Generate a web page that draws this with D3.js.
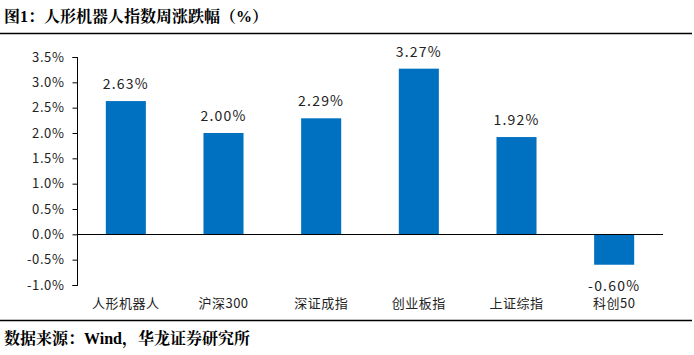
<!DOCTYPE html>
<html><head><meta charset="utf-8">
<script src="https://cdn.jsdelivr.net/npm/d3@7"></script>
<style>body{margin:0;background:#fff}</style>
</head><body>
<svg id="c" width="694" height="355"></svg>
<script>
const categories = ["人形机器人","沪深300","深证成指","创业板指","上证综指","科创50"];
const values = [2.63, 2.00, 2.29, 3.27, 1.92, -0.60];
const valueLabels = ["2.63%","2.00%","2.29%","3.27%","1.92%","-0.60%"];
const yTicks = [3.5,3.0,2.5,2.0,1.5,1.0,0.5,0.0,-0.5,-1.0];

const svg = d3.select("#c");
const sans = "'Noto Sans CJK SC', 'Liberation Sans', sans-serif";
const serif = "'Liberation Serif', 'Noto Serif CJK SC', 'Noto Sans CJK SC', serif";

// title
svg.append("text").attr("x",4).attr("y",22).attr("font-family",serif)
  .attr("font-weight","bold").attr("font-size",16).attr("fill","#000")
  .text("图1：人形机器人指数周涨跌幅（%）");
svg.append("line").attr("x1",0).attr("x2",692).attr("y1",33.5).attr("y2",33.5)
  .attr("stroke","#000").attr("stroke-width",1.5);
svg.append("line").attr("x1",0).attr("x2",692).attr("y1",320.5).attr("y2",320.5)
  .attr("stroke","#000").attr("stroke-width",1.5);
svg.append("text").attr("x",4).attr("y",344).attr("font-family",serif)
  .attr("font-weight","bold").attr("font-size",16).attr("fill","#000")
  .text("数据来源：Wind，华龙证券研究所");

const x = d3.scaleBand().domain(categories).range([77,663]).paddingInner(0.59).paddingOuter(0.295);
const y = d3.scaleLinear().domain([-1,3.5]).range([285,57]);

const yAxis = d3.axisLeft(y).tickValues(yTicks).tickSize(5).tickFormat(d=>d.toFixed(1)+"%");
const gy = svg.append("g").attr("transform","translate(77.5,0)").call(yAxis);
gy.select(".domain").attr("stroke","#000").attr("d","M-5,57.5H0V285.5H-5");
gy.selectAll(".tick line").attr("stroke","#000");
gy.selectAll(".tick text").attr("font-family",sans).attr("font-size",13).attr("fill","#222")
  .attr("x",-13).attr("letter-spacing",0.6);

svg.selectAll("rect.bar").data(values).enter().append("rect")
  .attr("x",(d,i)=>x(categories[i]))
  .attr("width",x.bandwidth())
  .attr("y",d=>y(Math.max(0,d)))
  .attr("height",d=>Math.abs(y(d)-y(0)))
  .attr("fill","#0070C0");

// zero line
svg.append("line").attr("x1",77).attr("x2",663).attr("y1",Math.round(y(0))+0.5).attr("y2",Math.round(y(0))+0.5)
  .attr("stroke","#000").attr("stroke-width",1);

svg.selectAll("text.vl").data(values).enter().append("text")
  .attr("x",(d,i)=>x(categories[i])+x.bandwidth()/2)
  .attr("y",d=> d>=0 ? y(d)-12 : y(d)+26)
  .attr("text-anchor","middle").attr("font-family",sans).attr("font-size",14).attr("fill","#222")
  .attr("letter-spacing",1.2)
  .text((d,i)=>valueLabels[i]);

svg.selectAll("text.cl").data(categories).enter().append("text")
  .attr("x",d=>x(d)+x.bandwidth()/2).attr("y",308)
  .attr("text-anchor","middle").attr("font-family",sans).attr("font-size",13).attr("fill","#222")
  .attr("letter-spacing",0.5)
  .text(d=>d);
</script>
</body></html>
